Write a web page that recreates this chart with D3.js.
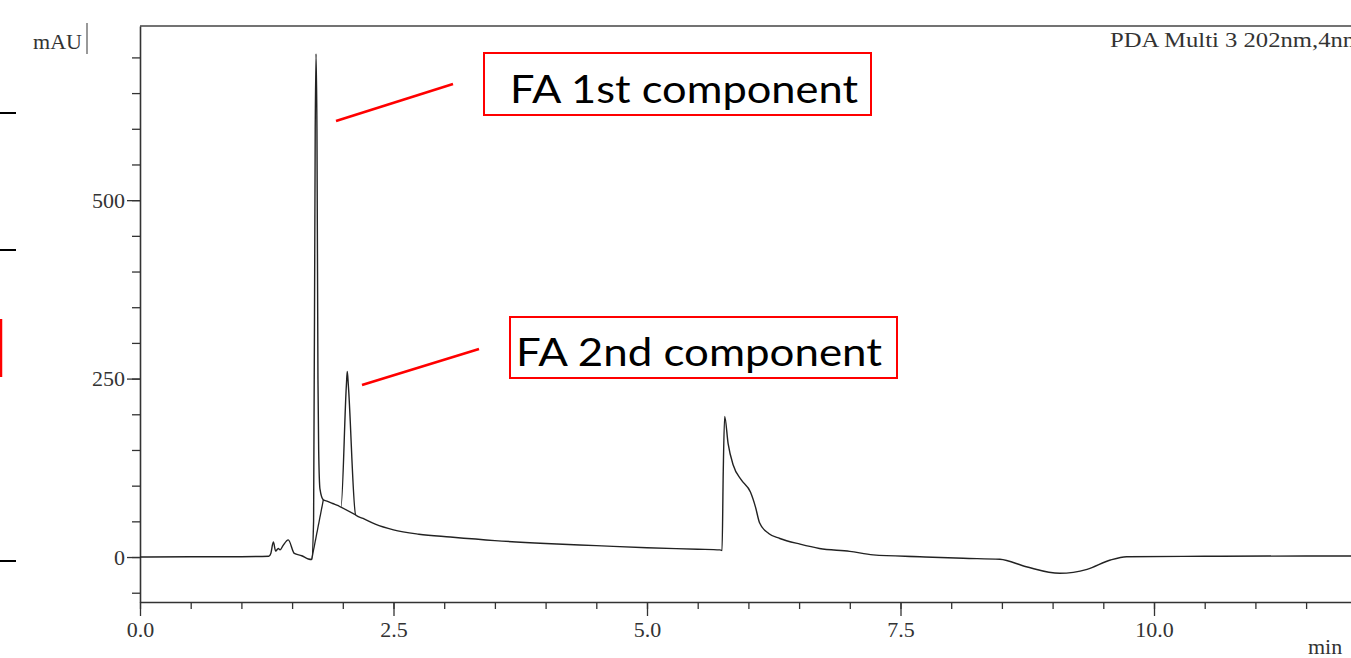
<!DOCTYPE html>
<html>
<head>
<meta charset="utf-8">
<script src="https://cdn.jsdelivr.net/npm/d3@7"></script>
<style>
  html, body { margin: 0; padding: 0; background: #fff; }
  svg { display: block; }
</style>
</head>
<body>
<div id="chart"></div>
<script>
// chromatogram trace (time in min, signal in mAU)
const traceTime = [0.00, 0.50, 1.00, 1.27, 1.29, 1.315, 1.338, 1.364, 1.381, 1.41, 1.462, 1.522, 1.595, 1.66, 1.693,
  1.712, 1.728, 1.736, 1.745, 1.755, 1.762, 1.775, 1.808, 1.85, 1.90, 1.955, 1.982,
  2.035, 2.044, 2.054, 2.127, 2.20, 2.32, 2.50, 2.75, 3.06, 3.50, 4.00, 4.50, 5.00, 5.50, 5.72,
  5.74, 5.752, 5.766, 5.80, 5.85, 5.93, 6.02, 6.07, 6.11, 6.20, 6.31, 6.51, 6.70, 7.00,
  7.23, 7.69, 8.12, 8.48, 8.74, 9.07, 9.34, 9.57, 9.73, 10.5, 11.5, 12.0];
const traceMAU = [0, 0.3, 0.5, 1, 5, 21, 8.4, 12, 10, 16, 24, 5, 1.8, -2.8, -3.5,
  50, 600, 705, 600, 250, 150, 95, 80, 78, 75, 72, 70,
  240, 260, 242, 59, 54, 46, 38, 32, 28, 23, 19, 16, 13, 11, 10,
  9, 120, 197, 159, 129, 108, 91, 70, 48, 33, 26, 18, 12, 8,
  3, 0.4, -1.8, -3.2, -13.6, -22.8, -17.3, -4.2, 0.4, 1, 1.5, 1.5];

// integration baselines drawn under the two FA peaks
const baseTime = [[1.693, 1.808], [1.982, 2.127]];
const baseMAU = [[-3.5, 80], [70, 59]];

const xMajor = [0, 2.5, 5, 7.5, 10];
const xMinor = d3.range(0, 12.01, 0.5);
const yMajor = [0, 250, 500];
const yMinor = d3.range(-50, 701, 50);

const noteLabels = ["FA 1st component", "FA 2nd component"];

const W = 1351, H = 658;
const svg = d3.select("#chart").append("svg")
  .attr("width", W).attr("height", H);

const x = d3.scaleLinear().domain([0, 12]).range([140, 140 + 12 * 101.4]);
const y = d3.scaleLinear().domain([-63, 744]).range([602, 26]);

const serif = "'Liberation Serif', 'Times New Roman', serif";

// top frame line
svg.append("line")
  .attr("x1", 140).attr("x2", W)
  .attr("y1", 26).attr("y2", 26)
  .attr("stroke", "#444").attr("stroke-width", 1.5);

// x axis: minor then major ticks
svg.append("g")
  .attr("transform", `translate(0, ${y.range()[0]})`)
  .call(d3.axisBottom(x).tickValues(xMinor).tickSize(7).tickSizeOuter(0).tickFormat(""))
  .call(g => g.select(".domain").remove())
  .call(g => g.selectAll("line").attr("stroke", "#333").attr("stroke-width", 1.3));

svg.append("g")
  .attr("transform", `translate(0, ${y.range()[0]})`)
  .call(d3.axisBottom(x).tickValues(xMajor).tickSize(14).tickSizeOuter(0).tickPadding(5)
    .tickFormat(d3.format(".1f")))
  .call(g => g.select(".domain").attr("stroke", "#333").attr("stroke-width", 1.6))
  .call(g => g.selectAll("line").attr("stroke", "#333").attr("stroke-width", 1.3))
  .call(g => g.selectAll("text").attr("font-family", serif).attr("font-size", 22).attr("fill", "#333"));

// y axis
svg.append("g")
  .attr("transform", `translate(${x.range()[0]}, 0)`)
  .call(d3.axisLeft(y).tickValues(yMinor).tickSize(8).tickSizeOuter(0).tickFormat(""))
  .call(g => g.select(".domain").remove())
  .call(g => g.selectAll("line").attr("stroke", "#333").attr("stroke-width", 1.3));

svg.append("g")
  .attr("transform", `translate(${x.range()[0]}, 0)`)
  .call(d3.axisLeft(y).tickValues(yMajor).tickSize(13).tickSizeOuter(0).tickPadding(2))
  .call(g => g.select(".domain").attr("stroke", "#333").attr("stroke-width", 1.6))
  .call(g => g.selectAll("line").attr("stroke", "#333").attr("stroke-width", 1.3))
  .call(g => g.selectAll("text").attr("font-family", serif).attr("font-size", 22).attr("fill", "#333"));

// trace
const line = d3.line().x(d => x(d[0])).y(d => y(d[1])).curve(d3.curveMonotoneX);
svg.append("path")
  .datum(d3.zip(traceTime, traceMAU))
  .attr("d", line)
  .attr("fill", "none")
  .attr("stroke", "#222")
  .attr("stroke-width", 1.4)
  .attr("stroke-linejoin", "round");

const segLine = d3.line().x(d => x(d[0])).y(d => y(d[1]));
svg.selectAll(".baseline")
  .data(d3.zip(baseTime, baseMAU))
  .enter()
  .append("path")
  .attr("class", "baseline")
  .attr("d", d => segLine(d3.zip(d[0], d[1])))
  .attr("fill", "none")
  .attr("stroke", "#222")
  .attr("stroke-width", 1.3);

// unit and detector labels
svg.append("text")
  .attr("x", 33).attr("y", 49)
  .attr("font-family", serif).attr("font-size", 22).attr("fill", "#333")
  .attr("textLength", 49)
  .text("mAU");
svg.append("line")
  .attr("x1", 87).attr("x2", 87).attr("y1", 23).attr("y2", 54)
  .attr("stroke", "#555").attr("stroke-width", 1.2);

svg.append("text")
  .attr("x", 1110).attr("y", 47)
  .attr("font-family", serif).attr("font-size", 22).attr("fill", "#333")
  .attr("textLength", 252).attr("lengthAdjust", "spacingAndGlyphs")
  .text("PDA Multi 3 202nm,4nm");

svg.append("text")
  .attr("x", 1308).attr("y", 654)
  .attr("font-family", serif).attr("font-size", 22).attr("fill", "#333")
  .text("min");

// red annotation boxes
const notes = [
  {box: [484, 53, 387, 62], tx: 510, ty: 103, len: 348, ln: [336, 121, 453, 84]},
  {box: [510, 317, 387, 61], tx: 516, ty: 366, len: 366, ln: [362, 385, 479, 349]}
];
notes.forEach((n, i) => {
  svg.append("rect")
    .attr("x", n.box[0]).attr("y", n.box[1])
    .attr("width", n.box[2]).attr("height", n.box[3])
    .attr("fill", "none").attr("stroke", "#f00").attr("stroke-width", 2);
  svg.append("text")
    .attr("x", n.tx).attr("y", n.ty)
    .attr("font-family", "Lato, 'Open Sans', sans-serif").attr("font-size", 39)
    .attr("fill", "#000")
    .attr("textLength", n.len).attr("lengthAdjust", "spacingAndGlyphs")
    .text(noteLabels[i]);
  svg.append("line")
    .attr("x1", n.ln[0]).attr("y1", n.ln[1]).attr("x2", n.ln[2]).attr("y2", n.ln[3])
    .attr("stroke", "#f00").attr("stroke-width", 2.5);
});

// slide fragments cut at the left edge
[113, 250, 561].forEach(yy => {
  svg.append("line")
    .attr("x1", 0).attr("x2", 16).attr("y1", yy).attr("y2", yy)
    .attr("stroke", "#000").attr("stroke-width", 2);
});
svg.append("line")
  .attr("x1", 1).attr("x2", 1).attr("y1", 319).attr("y2", 377)
  .attr("stroke", "#f00").attr("stroke-width", 2.5);
</script>
</body>
</html>
